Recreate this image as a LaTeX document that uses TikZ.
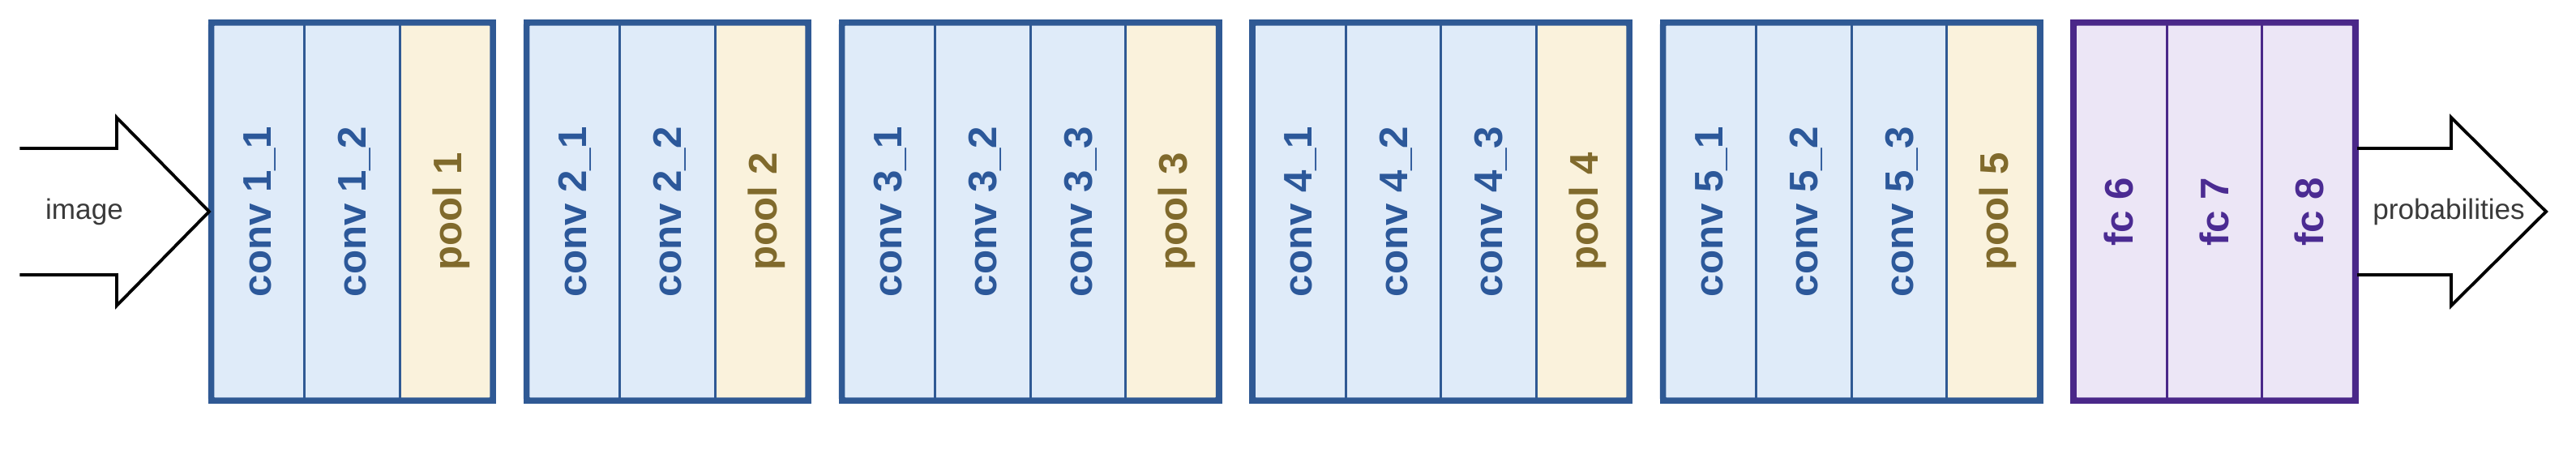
\documentclass[tikz,border=0pt]{standalone}
\usepackage{fontspec}
\setmainfont{Liberation Sans}
\usepackage{xcolor}
\usetikzlibrary{positioning,fit,calc}

\definecolor{convline}{RGB}{47,89,148}
\definecolor{convfill}{RGB}{223,235,249}
\definecolor{convtext}{RGB}{44,88,154}
\definecolor{poolfill}{RGB}{250,242,220}
\definecolor{pooltext}{RGB}{128,106,44}
\definecolor{fcline}{RGB}{74,40,137}
\definecolor{fcfill}{RGB}{236,230,246}
\definecolor{fctext}{RGB}{75,43,146}
\definecolor{iotext}{RGB}{58,58,58}

\tikzset{
  layername/.style={rotate=90, inner sep=0pt, text height=10pt, text depth=0pt,
    font=\bfseries\fontsize{14}{16}\selectfont},
  cellbox/.style={draw, line width=0.03cm, minimum width=1.175cm, minimum height=4.71cm,
    inner sep=0pt, outer sep=0pt},
  convcell/.style={cellbox, draw=convline, fill=convfill,
    label={[layername, text=convtext]center:#1}},
  poolcell/.style={cellbox, draw=convline, fill=poolfill,
    label={[layername, text=pooltext]center:#1}},
  fccell/.style={cellbox, draw=fcline, fill=fcfill,
    label={[layername, text=fctext]center:#1}},
  blockframe/.style={draw, line width=0.075cm, inner sep=-0.025cm, rounded corners=1pt},
  bigarrow/.style={draw=black, line width=1.1pt},
  ioname/.style={font=\fontsize{10}{12}\selectfont, text=iotext},
}

\begin{document}
\begin{tikzpicture}
    \useasboundingbox (0,-2.99) rectangle (31.78,2.61);
    % block 1
    \node[convcell={conv 1\_1}, anchor=west] (c11) at (2.58,0) {};
    \node[convcell={conv 1\_2}, right=0pt of c11] (c12) {};
    \node[poolcell={pool 1}, right=0pt of c12] (p1) {};
    \node[blockframe, draw=convline, fit=(c11)(p1)] (b1) {};
    % block 2
    \node[convcell={conv 2\_1}, right=0.365cm of p1] (c21) {};
    \node[convcell={conv 2\_2}, right=0pt of c21] (c22) {};
    \node[poolcell={pool 2}, right=0pt of c22] (p2) {};
    \node[blockframe, draw=convline, fit=(c21)(p2)] (b2) {};
    % block 3
    \node[convcell={conv 3\_1}, right=0.365cm of p2] (c31) {};
    \node[convcell={conv 3\_2}, right=0pt of c31] (c32) {};
    \node[convcell={conv 3\_3}, right=0pt of c32] (c33) {};
    \node[poolcell={pool 3}, right=0pt of c33] (p3) {};
    \node[blockframe, draw=convline, fit=(c31)(p3)] (b3) {};
    % block 4
    \node[convcell={conv 4\_1}, right=0.365cm of p3] (c41) {};
    \node[convcell={conv 4\_2}, right=0pt of c41] (c42) {};
    \node[convcell={conv 4\_3}, right=0pt of c42] (c43) {};
    \node[poolcell={pool 4}, right=0pt of c43] (p4) {};
    \node[blockframe, draw=convline, fit=(c41)(p4)] (b4) {};
    % block 5
    \node[convcell={conv 5\_1}, right=0.365cm of p4] (c51) {};
    \node[convcell={conv 5\_2}, right=0pt of c51] (c52) {};
    \node[convcell={conv 5\_3}, right=0pt of c52] (c53) {};
    \node[poolcell={pool 5}, right=0pt of c53] (p5) {};
    \node[blockframe, draw=convline, fit=(c51)(p5)] (b5) {};
    % fully connected
    \node[fccell={fc 6}, right=0.365cm of p5] (f6) {};
    \node[fccell={fc 7}, right=0pt of f6] (f7) {};
    \node[fccell={fc 8}, right=0pt of f7] (f8) {};
    \node[blockframe, draw=fcline, fit=(f6)(f8)] (b6) {};
    % input and output arrows
    \draw[bigarrow] ($(c11.west)+(-2.335,0.78)$) -- ++(1.195,0) -- ++(0,0.38)
        -- (c11.west) -- ++(-1.14,-1.16) -- ++(0,0.38) -- ++(-1.195,0);
    \node[ioname] (img) at (1.04,0) {image};
    \draw[bigarrow] ($(f8.east)+(0,0.78)$) -- ++(1.16,0) -- ++(0,0.38)
        -- ++(1.17,-1.16) -- ++(-1.17,-1.16) -- ++(0,0.38) -- ++(-1.16,0);
    \node[ioname] (prob) at (30.21,0) {probabilities};
\end{tikzpicture}
\end{document}
